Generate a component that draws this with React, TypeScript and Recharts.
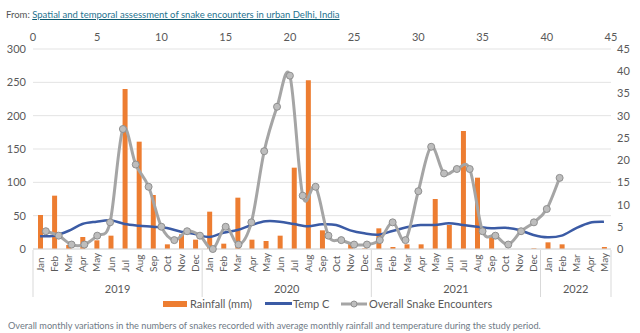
import React from "react"
import { ComposedChart, Bar, Line, XAxis, YAxis, CartesianGrid, Legend } from "recharts"

const monthNames = ["Jan", "Feb", "Mar", "Apr", "May", "Jun", "Jul", "Aug", "Sep", "Oct", "Nov", "Dec"]
const yearLabels = ["2019", "2020", "2021", "2022"]
const yearCounts = [12, 12, 12, 5]

const rainfall = [
  51, 80, 6, 18, 13, 20, 240, 161, 81, 7, 22, 14,
  56, 8, 77, 14, 12, 20, 122, 253, 28, 0, 8, 1,
  31, 3, 7, 7, 75, 36, 177, 107, 19, 0, 0, 1,
  10, 7, 0, 0, 3,
]

const temperature = [
  19, 20, 27, 37.5, 41, 43, 37.5, 35, 33.5, 31.5, 26, 22.5,
  18, 24.5, 28.5, 36, 41.5, 41, 37.5, 34, 37, 36, 28, 23.5,
  21.5, 27, 32.5, 36, 36, 38.5, 36, 33.5, 31, 32, 28.5, 21,
  17.5, 20, 31, 39.5, 41,
]

// snake series sits on the secondary (top) axis, points 1..41
const snakes = [
  4, 3, 1, 1, 3, 6, 27, 19, 14, 5, 2, 4, 3, 0, 5, 1, 6, 22, 32, 39, 12,
  14, 3, 2, 1, 1, 2, 6, 2, 13, 23, 17, 18, 18, 4, 3, 1, 4, 6, 9, 16,
]

const leftTicks = [0, 50, 100, 150, 200, 250, 300]
const rightTicks = [0, 5, 10, 15, 20, 25, 30, 35, 40, 45]
const topTicks = [0, 5, 10, 15, 20, 25, 30, 35, 40, 45]

const months: string[] = []
yearCounts.forEach((n) => {
  for (let i = 0; i < n; i++) months.push(monthNames[i])
})

const data = months.map((m, i) => ({ month: m + i, label: m, rainfall: rainfall[i], temp: temperature[i] }))
const snakeData = snakes.map((v, i) => ({ k: i + 1, snakes: v }))

const PLOT_LEFT = 33
const PLOT_RIGHT = 611
const band = (PLOT_RIGHT - PLOT_LEFT) / months.length
const grey = "#595959"
const font = "Lato, 'Open Sans', sans-serif"

// Excel-like smoothed line (catmull-rom style bezier)
function excelCurve(context: any) {
  let pts: number[][] = []
  return {
    areaStart() {},
    areaEnd() {},
    lineStart() {
      pts = []
    },
    lineEnd() {
      if (!pts.length) return
      context.moveTo(pts[0][0], pts[0][1])
      for (let i = 0; i < pts.length - 1; i++) {
        const p0 = pts[i - 1] || pts[i]
        const p1 = pts[i]
        const p2 = pts[i + 1]
        const p3 = pts[i + 2] || p2
        const t = 1 / 6
        context.bezierCurveTo(
          p1[0] + (p2[0] - p0[0]) * t,
          p1[1] + (p2[1] - p0[1]) * t,
          p2[0] - (p3[0] - p1[0]) * t,
          p2[1] - (p3[1] - p1[1]) * t,
          p2[0],
          p2[1]
        )
      }
    },
    point(x: number, y: number) {
      pts.push([+x, +y])
    },
  }
}

const groupStarts: number[] = []
yearCounts.reduce((acc, n) => {
  groupStarts.push(acc)
  return acc + n
}, 0)

function MonthTick(props: any) {
  const { x, index } = props
  const g = groupStarts.indexOf(index)
  return (
    <g>
      <text
        transform={`translate(${x},272) rotate(-90)`}
        textAnchor="start"
        dominantBaseline="central"
        fontSize={10}
        fill={grey}
        fontFamily={font}
      >
        {months[index]}
      </text>
      {g >= 0 && (
        <>
          <line x1={x - band / 2} x2={x - band / 2} y1={250} y2={297} stroke="#d9d9d9" />
          <text
            x={x + ((yearCounts[g] - 1) / 2) * band}
            y={293}
            textAnchor="middle"
            fontSize={11}
            fill={grey}
            fontFamily={font}
          >
            {yearLabels[g]}
          </text>
        </>
      )}
      {index === months.length - 1 && (
        <line x1={x + band / 2} x2={x + band / 2} y1={250} y2={297} stroke="#d9d9d9" />
      )}
    </g>
  )
}

function TopTick(props: any) {
  return (
    <text x={props.x} y={41} textAnchor="middle" fontSize={11} fill={grey} fontFamily={font}>
      {props.payload.value}
    </text>
  )
}

function LeftTick(props: any) {
  return (
    <text x={26} y={props.y + 4} textAnchor="end" fontSize={11} fill={grey} fontFamily={font}>
      {props.payload.value}
    </text>
  )
}

function RightTick(props: any) {
  return (
    <text x={617} y={props.y + 4} textAnchor="start" fontSize={11} fill={grey} fontFamily={font}>
      {props.payload.value}
    </text>
  )
}

function LegendBox() {
  const item = (left: number) =>
    ({ position: "absolute", left, top: 0, display: "flex", alignItems: "center", whiteSpace: "nowrap" }) as const
  return (
    <div style={{ position: "relative", height: 14, fontSize: 11, color: grey, fontFamily: font }}>
      <div style={item(163)}>
        <span style={{ width: 24, height: 6, background: "#ed7d31", marginRight: 3 }} />
        Rainfall (mm)
      </div>
      <div style={item(265)}>
        <span style={{ width: 27, height: 3, background: "#3b5ba5", marginRight: 1 }} />
        Temp C
      </div>
      <div style={item(341)}>
        <svg width={26} height={8} style={{ marginRight: 2 }}>
          <line x1={0} x2={26} y1={4} y2={4} stroke="#a5a5a5" strokeWidth={3} />
          <circle cx={13} cy={4} r={3} fill="#bdbdbd" stroke="#8f8f8f" />
        </svg>
        Overall Snake Encounters
      </div>
    </div>
  )
}

export default function App() {
  return (
    <div style={{ position: "absolute", left: 0, top: 0, width: 640, height: 333, background: "#fff", fontFamily: font }}>
      <div style={{ position: "absolute", left: 6, top: 9, fontSize: 9.5, color: "#555", whiteSpace: "nowrap" }}>
        From:{" "}
        <span style={{ color: "#1f7390", textDecoration: "underline", textDecorationColor: "#0d5a70" }}>
          Spatial and temporal assessment of snake encounters in urban Delhi, India
        </span>
      </div>
      <ComposedChart width={640} height={333} data={data} margin={{ top: 0, right: 0, bottom: 0, left: 0 }}>
        <CartesianGrid vertical={false} stroke="#e3e3e3" />
        <XAxis
          dataKey="month"
          height={84}
          axisLine={{ stroke: "#d9d9d9" }}
          tickLine={false}
          interval={0}
          tick={MonthTick}
        />
        <XAxis
          xAxisId="top"
          orientation="top"
          type="number"
          dataKey="k"
          domain={[0, 45]}
          ticks={topTicks}
          interval={0}
          height={49}
          axisLine={false}
          tickLine={false}
          tick={TopTick}
        />
        <YAxis
          width={33}
          domain={[0, 300]}
          ticks={leftTicks}
          interval={0}
          axisLine={false}
          tickLine={false}
          tick={LeftTick}
        />
        <YAxis
          yAxisId="right"
          orientation="right"
          width={29}
          domain={[0, 45]}
          ticks={rightTicks}
          interval={0}
          axisLine={false}
          tickLine={false}
          tick={RightTick}
        />
        <Bar dataKey="rainfall" name="Rainfall (mm)" fill="#ed7d31" barSize={5} isAnimationActive={false} />
        <Line
          dataKey="temp"
          name="Temp C"
          stroke="#3b5ba5"
          strokeWidth={2.5}
          dot={false}
          type={excelCurve as any}
          isAnimationActive={false}
        />
        <Line
          data={snakeData}
          xAxisId="top"
          yAxisId="right"
          dataKey="snakes"
          name="Overall Snake Encounters"
          stroke="#a5a5a5"
          strokeWidth={3}
          dot={{ r: 3.5, fill: "#bdbdbd", stroke: "#8f8f8f", strokeWidth: 1 }}
          type={excelCurve as any}
          isAnimationActive={false}
        />
        <Legend
          layout="horizontal"
          verticalAlign="middle"
          content={LegendBox}
          wrapperStyle={{ position: "absolute", top: 297, left: 0, width: 640 }}
        />
      </ComposedChart>
      <div style={{ position: "absolute", left: 8, top: 320, fontSize: 9.2, color: "#6f7a86", whiteSpace: "nowrap" }}>
        Overall monthly variations in the numbers of snakes recorded with average monthly rainfall and temperature during the study period.
      </div>
    </div>
  )
}
